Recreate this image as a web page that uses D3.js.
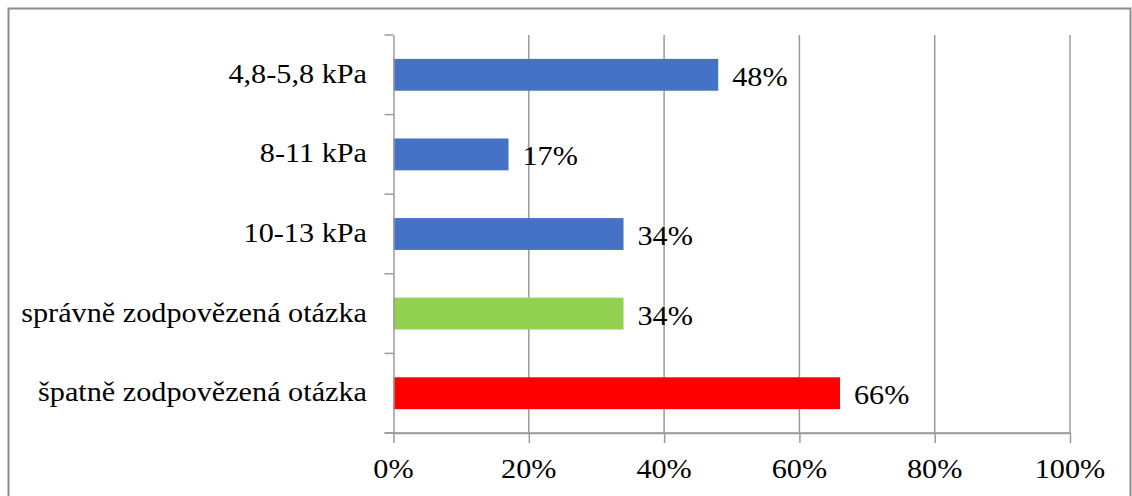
<!DOCTYPE html>
<html>
<head>
<meta charset="utf-8">
<script src="https://cdn.jsdelivr.net/npm/d3@7"></script>
<style>
  html, body { margin: 0; padding: 0; background: #fff; }
  svg { display: block; }
  text { font-family: "Liberation Serif", "Times New Roman", serif; fill: #000; }
</style>
</head>
<body>
<svg id="chart" width="1132" height="496"></svg>
<script>
// Answer shares for the blood-pressure question
const categories = [
  "4,8-5,8 kPa",
  "8-11 kPa",
  "10-13 kPa",
  "správně zodpovězená otázka",
  "špatně zodpovězená otázka"
];
const values = [48, 17, 34, 34, 66];
const barColors = ["#4472C4", "#4472C4", "#4472C4", "#92D050", "#FF0000"];
const xTicks = [0, 20, 40, 60, 80, 100];

const W = 1132, H = 496;
const plot = { left: 393.5, right: 1070, top: 35, bottom: 433 };
const fontSize = 27;
const stretch = 1.12;
const gridColor = "#9a9a9a";

const svg = d3.select("#chart");

// outer frame
svg.append("rect")
  .attr("x", 8.5).attr("y", 8.5)
  .attr("width", W - 10).attr("height", H + 20)
  .attr("fill", "#fff")
  .attr("stroke", "#8c8c8c").attr("stroke-width", 2);

const x = d3.scaleLinear().domain([0, 100]).range([plot.left, plot.right]);
const y = d3.scaleBand().domain(categories).range([plot.top, plot.bottom]).padding(0);

// vertical gridlines
svg.append("g")
  .selectAll("line")
  .data(xTicks.slice(1))
  .join("line")
  .attr("x1", d => x(d)).attr("x2", d => x(d))
  .attr("y1", plot.top).attr("y2", plot.bottom)
  .attr("stroke", gridColor).attr("stroke-width", 1.5);

// bars
const barH = y.bandwidth() * 0.4;
svg.append("g")
  .selectAll("rect")
  .data(categories)
  .join("rect")
  .attr("x", x(0))
  .attr("y", d => y(d) + (y.bandwidth() - barH) / 2)
  .attr("width", (d, i) => x(values[i]) - x(0))
  .attr("height", barH)
  .attr("fill", (d, i) => barColors[i]);

// axes
const xAxis = svg.append("g")
  .attr("transform", `translate(0,${plot.bottom})`)
  .call(d3.axisBottom(x).tickValues(xTicks).tickSize(10).tickFormat(() => "").tickSizeOuter(0));
const yAxis = svg.append("g")
  .attr("transform", `translate(${plot.left},0)`)
  .call(d3.axisLeft(y).tickSize(0).tickFormat(() => ""));

// category boundary ticks on the y axis
const bounds = categories.map(c => y(c)).concat([plot.bottom]);
svg.append("g")
  .selectAll("line")
  .data(bounds)
  .join("line")
  .attr("x1", plot.left - 9).attr("x2", plot.left)
  .attr("y1", d => d).attr("y2", d => d)
  .attr("stroke", gridColor).attr("stroke-width", 1.5);

svg.append("line")
  .attr("x1", plot.left - 9).attr("x2", plot.right)
  .attr("y1", plot.bottom).attr("y2", plot.bottom)
  .attr("stroke", gridColor).attr("stroke-width", 1.5);

[xAxis, yAxis].forEach(g => {
  g.select(".domain").attr("stroke", gridColor).attr("stroke-width", 1.5);
  g.selectAll(".tick line").attr("stroke", gridColor).attr("stroke-width", 1.5);
});

// horizontally widened text helper
function label(parent, tx, ty, str, anchor) {
  parent.append("g")
    .attr("transform", `translate(${tx},${ty}) scale(${stretch},1)`)
    .append("text")
    .attr("text-anchor", anchor)
    .attr("font-size", fontSize)
    .text(str);
}

const labels = svg.append("g");

// category names
categories.forEach(c => {
  label(labels, 367, y(c) + y.bandwidth() / 2 + 8, c, "end");
});

// value labels
categories.forEach((c, i) => {
  label(labels, x(values[i]) + 14, y(c) + y.bandwidth() / 2 + 11, values[i] + "%", "start");
});

// x tick labels
xTicks.forEach(t => {
  label(labels, x(t), 478, t + "%", "middle");
});
</script>
</body>
</html>
